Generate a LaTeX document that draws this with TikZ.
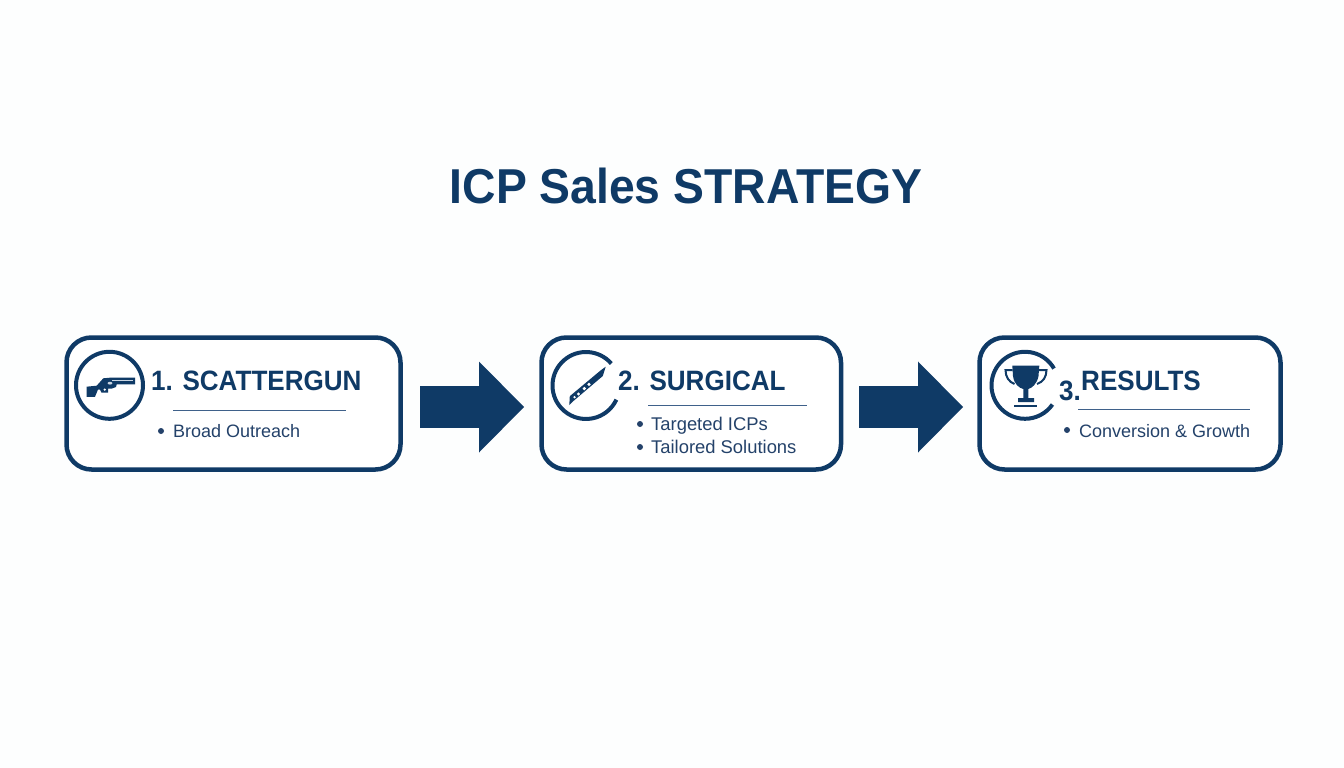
\documentclass[tikz,border=0pt]{standalone}
\usepackage{fontspec}
\setmainfont{Liberation Sans}
\newfontfamily\headfont[FakeStretch=0.93]{Liberation Sans}
\newfontfamily\titlefont[FakeStretch=0.945]{Liberation Sans}
\usetikzlibrary{arrows.meta,calc}
\definecolor{navy}{HTML}{0F3A66}
\definecolor{bodytxt}{HTML}{24426A}
\definecolor{rulec}{HTML}{3F618A}
\definecolor{paper}{HTML}{FDFEFE}
\definecolor{slot}{HTML}{C9D5E2}
\tikzset{
  x=1pt,y=-1pt,
  cardbox/.style={draw=navy,line width=4.5pt,rounded corners=25pt,fill=white,minimum height=132pt,inner sep=0pt,outer sep=0pt},
  heading/.style={anchor=base west,inner sep=0pt,text=navy,font=\fontsize{28}{28}\headfont\bfseries},
  bodyline/.style={anchor=base west,inner sep=0pt,text=bodytxt,font=\fontsize{18}{18}\selectfont},
  bulletdot/.style={circle,fill=bodytxt,minimum size=6pt,inner sep=0pt},
  iconring/.style={draw=navy,line width=4pt},
  thinrule/.style={draw=rulec,line width=1pt},
  bigarrow/.style={draw=navy,line width=42pt,-{Triangle[length=45pt,width=91pt,fill=navy,line width=0pt]}},
  ink/.style={fill=navy,draw=none},
  hole/.style={fill=white,draw=none}
}
\begin{document}
\begin{tikzpicture}
\fill[paper] (0,0) rectangle (1344,768);
\useasboundingbox (0,0) rectangle (1344,768);

\node[anchor=base,inner sep=0pt,text=navy,font=\fontsize{49}{49}\titlefont\bfseries] (title) at (686,203) {ICP Sales STRATEGY};

\node[cardbox,minimum width=334pt] (b1) at (233.5,403.5) {};
\node[cardbox,minimum width=299.5pt] (b2) at (691.25,403.5) {};
\node[cardbox,minimum width=301pt] (b3) at (1130,403.5) {};

\draw[bigarrow,shorten <=19.5pt,shorten >=17.5pt] ($(b1.east)+(0,3.5)$) -- ($(b2.west)+(0,3.5)$);
\draw[bigarrow,shorten <=18pt,shorten >=16.5pt] ($(b2.east)+(0,3.5)$) -- ($(b3.west)+(0,3.5)$);

% card 1
\node[circle,draw=navy,line width=4pt,minimum size=67pt,inner sep=0pt] (ring1) at (109.5,385.3) {};
\fill[ink] (135,377.7) -- (135,384.3) -- (116.7,384.3) -- (116,387) -- (112,388.5) -- (108,388.5) -- (108,392.5) -- (101.5,392.5) -- (100,389.5) -- (98,389.5)
  -- (95,396.8) -- (86.7,396.8) -- (86.7,386.7) -- (96.7,385.7) -- (103.3,378.3) -- (110,377.7) -- cycle;
\fill[slot] (112,379.6) rectangle (133,381);
\fill[slot] (110,383.2) ellipse[x radius=2.4pt,y radius=1.4pt];
\fill[hole] (104.7,389.6) circle[radius=1.3pt];
\node[heading] (h1) at (151,390) {1. SCATTERGUN};
\coordinate (r1a) at (173,410); \coordinate (r1b) at (346,410);
\draw[thinrule] (r1a) -- (r1b);
\node[bulletdot] (d1) at (161,431) {};
\node[bodyline] (t1) at (173,437) {Broad Outreach};

% card 2
\coordinate (ring2s) at ($(586,385.5)+(41:33.5pt)$);
\draw[iconring] (ring2s) arc[start angle=41,end angle=335,radius=33.5pt];
\fill[ink] (569.8,396.2) -- (600.5,370.5) -- (605.7,366.7) -- (602.8,376) -- (574,400.5) -- (569.3,405) -- cycle;
\fill[hole] (574.5,397.2) circle[radius=1.3pt] (578.5,394) circle[radius=1.6pt] (584.3,388.6) circle[radius=1.8pt] (589,384.4) circle[radius=1.8pt];
\node[heading] (h2) at (618,390) {2. SURGICAL};
\coordinate (r2a) at (648,405.5); \coordinate (r2b) at (807,405.5);
\draw[thinrule] (r2a) -- (r2b);
\node[bulletdot] (d2a) at (640,424) {};
\node[bodyline,font=\fontsize{18.4}{18.4}\selectfont] (t2a) at (651,430) {Targeted ICPs};
\node[bulletdot] (d2b) at (640,447) {};
\node[bodyline,font=\fontsize{18.4}{18.4}\selectfont] (t2b) at (651,453) {Tailored Solutions};

% card 3
\coordinate (ring3s) at ($(1025,385.3)+(30:33.5pt)$);
\draw[iconring] (ring3s) arc[start angle=30,end angle=325,radius=33.5pt];
\fill[ink] (1012.3,365.7) -- (1039.3,365.7) -- (1038.5,376) .. controls (1037,384) and (1032,388) .. (1028.3,389) -- (1028.3,398) -- (1034,398) -- (1034,402) -- (1018,402) -- (1018,398) -- (1023.3,398) -- (1023.3,389) .. controls (1019,388) and (1014,384) .. (1013,376) -- cycle;
\fill[ink] (1014.3,404.5) rectangle (1037.3,406.8);
\draw[navy,line width=2pt] (1012.5,370) -- (1005.5,370) .. controls (1005.5,377) and (1009,382) .. (1014.5,384);
\draw[navy,line width=2pt] (1039,370) -- (1046.5,370) .. controls (1046.5,377) and (1043,382) .. (1037,384);
\node[heading] (h3n) at (1059,400) {3.};
\node[heading] (h3) at (1081,390) {RESULTS};
\coordinate (r3a) at (1078,409.5); \coordinate (r3b) at (1250,409.5);
\draw[thinrule] (r3a) -- (r3b);
\node[bulletdot] (d3) at (1067,430) {};
\node[bodyline] (t3) at (1079,437) {Conversion \& Growth};
\end{tikzpicture}
\end{document}
